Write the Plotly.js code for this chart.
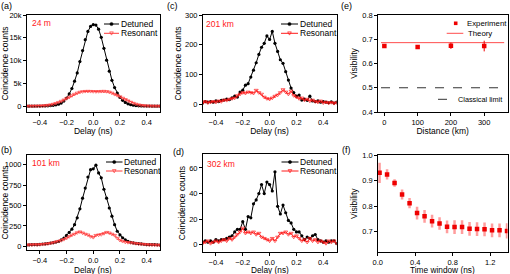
<!DOCTYPE html>
<html><head><meta charset="utf-8">
<script src="https://cdn.plot.ly/plotly-3.0.1.min.js"></script>
<style>html,body{margin:0;padding:0;background:#fff}#chart{width:510px;height:274px}</style>
</head><body><div id="chart"></div>
<script>
// ---------- data ----------
const delay = [-0.50,-0.48,-0.46,-0.44,-0.42,-0.40,-0.38,-0.36,-0.34,-0.32,-0.30,-0.28,-0.26,-0.24,-0.22,-0.20,-0.18,-0.16,-0.14,-0.12,-0.10,-0.08,-0.06,-0.04,-0.02,0.00,0.02,0.04,0.06,0.08,0.10,0.12,0.14,0.16,0.18,0.20,0.22,0.24,0.26,0.28,0.30,0.32,0.34,0.36,0.38,0.40,0.42,0.44,0.46,0.48,0.50];

const detunedA = [20,25,30,35,40, 50,60,80,110,150, 220,320,470,700,1150, 1800,2700,3900,5500,7300, 9800,12200,14600,16400,17500, 17900, 17800,16900,15100,12700,10100, 7700,5700,4100,2900,1950, 1300,850,550,350,230, 160,110,80,60,50, 40,35,30,25,20];
const resonantA = [30,35,40,50,60, 80,110,160,230,330, 470,650,870,1120,1400, 1700,2000,2350,2650,2900, 3100,3220,3280,3300,3280, 3250, 3230,3250,3280,3300,3250, 3120,2900,2620,2380,2100, 1800,1500,1200,920,680, 480,320,210,140,95, 70,55,45,35,30];

const detunedB = [15,18,20,22,20, 25,28,30,35,40, 45,52,60,78,100, 135,170,210,265,350, 460,590,715,850,940, 950, 995,900,840,700,590, 470,370,265,185,140, 105,80,62,50,42, 36,32,30,25,22, 20,22,20,18,15];
const resonantB = [15,20,18,22,20, 22,25,28,32,38, 45,55,62,72,85, 100,120,138,150,168, 178,165,150,140,120, 110, 135,140,145,158,172, 165,150,135,100,75, 62,52,48,45,40, 35,30,28,25,22, 20,18,18,15,15];

const detunedC = [5,10,8,10,8, 12,10,14,15,18, 16,22,28,25,42, 48,65,70,92,115, 140,168,192,205,230, 218, 245,205,178,150,138, 110,82,55,40,28, 32,15,18,14,28, 12,10,12,8,10, 8,6,9,5,8];
const resonantC = [5,10,6,8,10, 8,12,10,15,14, 18,20,22,30,35, 40,38,42,40,38, 48,40,35,25,20, 18, 22,28,32,40,50, 42,35,45,30,25, 20,22,15,18,12, 15,10,8,12,6, 8,5,7,4,6];

const detunedD = [2,3,2,3,2, 4,3,4,4,5, 6,7,10,12,12, 18,12,22,21,32, 35,40,47,40,49, 47, 42,57,30,24,31, 25,19,17,12,10, 10,7,4,6,5, 7,8,4,3,2, 3,2,3,3,1];
const resonantD = [1,2,3,1,2, 3,2,3,4,3, 5,4,6,8,10, 13,9,10,9,10, 8,9,6,5,4, 3, 5,3,6,9,9, 10,8,9,6,7, 5,3,4,2,5, 3,4,2,3,2, 1,3,2,3,1];

const distanceKm = [0,100,200,300];
const visExp = [0.672,0.668,0.673,0.672];
const visExpErr = [0.005,0.006,0.013,0.022];
const theoryKm = [-10,360];
const theoryVis = [0.686,0.686];
const classicalVis = [0.5,0.5];

const timeWindow = [0.02,0.10,0.18,0.26,0.34,0.42,0.50,0.58,0.66,0.74,0.82,0.90,0.98,1.06,1.14,1.22,1.30,1.38];
const visTW = [0.931,0.925,0.891,0.846,0.812,0.773,0.760,0.741,0.732,0.719,0.718,0.718,0.711,0.710,0.709,0.705,0.705,0.703];
const visTWErr = [0.04,0.02,0.015,0.02,0.02,0.025,0.025,0.025,0.025,0.025,0.027,0.027,0.027,0.027,0.027,0.027,0.027,0.03];

const countTicksA = [0,5000,10000,15000,20000];
const countTickTextA = ['0','5k','10k','15k','20k'];
const distanceLabels = ['24 m','101 km','201 km','302 km'];

// ---------- styling ----------
const W = 510, H = 274;
const px = x => x / W, py = y => 1 - y / H;
const FONT = 'Liberation Sans, Arial, sans-serif';
const BLACK = '#000000', RED = '#ff3b3b', RED2 = '#ff1a1a';

function axis(d0, d1, range, extra) {
  return Object.assign({
    domain: [d0, d1], range: range, showline: true, mirror: true,
    linecolor: '#000', linewidth: 1, ticks: 'outside', ticklen: 2.5, tickwidth: 1,
    tickcolor: '#000', showgrid: false, zeroline: false, fixedrange: true,
    tickfont: {size: 7.5, color: '#000', family: FONT}
  }, extra || {});
}
function ttl(t, s) { return {text: t, font: {size: 8.5, color: '#000', family: FONT}, standoff: s}; }

const XA = [px(26.5), px(160)], XC = [px(202.5), px(336.7)], XE = [px(377.7), px(507.5)];
const YT = [py(112), py(15)], YB = [py(250), py(155)], YD = [py(252), py(154.3)], YF = [py(252), py(155.3)];

function pair(x, yD, yR, xa, ya, rc) {
  return [
    {x: x, y: yD, xaxis: xa, yaxis: ya, mode: 'lines+markers', type: 'scatter',
     line: {color: BLACK, width: 1}, marker: {symbol: 'circle', size: 3.2, color: BLACK}, showlegend: false},
    {x: x, y: yR, xaxis: xa, yaxis: ya, mode: 'lines+markers', type: 'scatter',
     line: {color: rc, width: 1}, marker: {symbol: 'triangle-down-open', size: 3.5, color: rc, line: {width: 0.7, color: rc}}, showlegend: false}
  ];
}

const data = [].concat(
  pair(delay, detunedA, resonantA, 'x', 'y', RED),
  pair(delay, detunedB, resonantB, 'x2', 'y2', RED),
  pair(delay, detunedC, resonantC, 'x3', 'y3', RED2),
  pair(delay, detunedD, resonantD, 'x4', 'y4', RED2),
  [
    {x: theoryKm, y: classicalVis, xaxis: 'x5', yaxis: 'y5', mode: 'lines', line: {color: '#333', width: 1, dash: 'dash'}, showlegend: false},
    {x: theoryKm, y: theoryVis, xaxis: 'x5', yaxis: 'y5', mode: 'lines', line: {color: '#ff4d4d', width: 1}, showlegend: false},
    {x: distanceKm, y: visExp, xaxis: 'x5', yaxis: 'y5', mode: 'markers',
     marker: {symbol: 'square', size: 4.5, color: '#ee0000'},
     error_y: {type: 'data', array: visExpErr, visible: true, color: '#ee0000', thickness: 1, width: 0}, showlegend: false},
    {x: timeWindow, y: visTW, xaxis: 'x6', yaxis: 'y6', mode: 'markers',
     marker: {symbol: 'square', size: 4.5, color: '#ee0000'},
     error_y: {type: 'data', array: visTWErr, visible: true, color: 'rgba(255,60,60,0.5)', thickness: 2.5, width: 0}, showlegend: false}
  ]
);

// ---------- hand-made legends, labels ----------
const shapes = [], annotations = [];
function legLine(x0, x1, y, color, dash) {
  shapes.push({type: 'line', xref: 'paper', yref: 'paper', x0: px(x0), x1: px(x1), y0: py(y), y1: py(y), line: {color: color, width: 1, dash: dash || 'solid'}});
}
function legCircle(x, y, r, color) {
  shapes.push({type: 'circle', xref: 'paper', yref: 'paper', x0: px(x - r), x1: px(x + r), y0: py(y + r), y1: py(y - r), fillcolor: color, line: {color: color, width: 0.5}});
}
function legSquare(x, y, r, color) {
  shapes.push({type: 'rect', xref: 'paper', yref: 'paper', x0: px(x - r), x1: px(x + r), y0: py(y + r), y1: py(y - r), fillcolor: color, line: {color: color, width: 0}});
}
function legTri(x, y, r, color) {
  shapes.push({type: 'path', xref: 'paper', yref: 'paper',
    path: 'M' + px(x - r) + ',' + py(y - r * 0.8) + ' L' + px(x + r) + ',' + py(y - r * 0.8) + ' L' + px(x) + ',' + py(y + r) + ' Z',
    line: {color: color, width: 0.7}, fillcolor: 'rgba(0,0,0,0)'});
}
function txt(x, y, t, opt) {
  opt = opt || {};
  annotations.push({xref: 'paper', yref: 'paper', x: px(x), y: py(y), text: t, showarrow: false,
    xanchor: opt.xa || 'left', yanchor: 'middle', borderpad: 0,
    font: {size: opt.size || 8.5, color: opt.color || '#000', family: FONT}});
}
function pairLegend(x0, x1, y1, y2, tx, rc) {
  legLine(x0, x1, y1, BLACK); legCircle((x0 + x1) / 2, y1, 1.6, BLACK);
  legLine(x0, x1, y2, rc); legTri((x0 + x1) / 2, y2, 1.8, rc);
  txt(tx, y1, 'Detuned'); txt(tx, y2, 'Resonant');
}
pairLegend(104, 119, 24, 33.3, 119.5, RED);
pairLegend(106, 122.5, 162, 171, 123, RED);
pairLegend(281, 298, 24, 33.3, 298.5, RED2);
pairLegend(281.5, 298.5, 162, 171, 299, RED2);
legSquare(455.7, 23.3, 1.8, '#ee0000'); txt(465.5, 23.3, 'Experiment', {size: 7.8});
legLine(446.7, 463.3, 33.3, '#ff4d4d'); txt(466.5, 33.3, 'Theory', {size: 7.8});
legLine(438, 455, 99.3, '#333', 'dash'); txt(456.5, 99.3, 'Classical limit', {size: 7.3});

txt(30.5, 22.7, distanceLabels[0], {color: '#ff1a1a', size: 8.5});
txt(30.5, 163, distanceLabels[1], {color: '#ff1a1a', size: 8.5});
txt(204.5, 24, distanceLabels[2], {color: '#ff1a1a', size: 8.5});
txt(206, 163.7, distanceLabels[3], {color: '#ff1a1a', size: 8.5});

txt(6, 6, '(a)', {xa: 'center', size: 9});
txt(6, 150, '(b)', {xa: 'center', size: 9});
txt(172, 6, '(c)', {xa: 'center', size: 9});
txt(178, 152, '(d)', {xa: 'center', size: 9});
txt(346, 6, '(e)', {xa: 'center', size: 9});
txt(346, 150, '(f)', {xa: 'center', size: 9});

// bottom-row x-axis titles (placed as text so they are not squeezed into the tick labels)
txt((26.5 + 160) / 2, 269.5, 'Delay (ns)', {xa: 'center', size: 8.3});
txt((202.5 + 336.7) / 2, 269.5, 'Delay (ns)', {xa: 'center', size: 8.3});
txt((377.7 + 507.5) / 2, 269.5, 'Time window (ns)', {xa: 'center', size: 8.3});

const delayTicks = {tickvals: [-0.4, -0.2, 0, 0.2, 0.4], ticktext: ['\u22120.4', '\u22120.2', '0.0', '0.2', '0.4']};

const layout = {
  width: W, height: H, margin: {l: 0, r: 0, t: 0, b: 0},
  paper_bgcolor: '#fff', plot_bgcolor: '#fff', showlegend: false,
  font: {family: FONT, size: 8, color: '#000'},
  xaxis: axis(XA[0], XA[1], [-0.5, 0.5], Object.assign({anchor: 'y', title: ttl('Delay (ns)', 1)}, delayTicks)),
  yaxis: axis(YT[0], YT[1], [-1250, 20000], {anchor: 'x', tickvals: countTicksA, ticktext: countTickTextA, title: ttl('Coincidence counts', 1)}),
  xaxis2: axis(XA[0], XA[1], [-0.5, 0.5], Object.assign({anchor: 'y2'}, delayTicks)),
  yaxis2: axis(YB[0], YB[1], [-45, 1120], {anchor: 'x2', tickvals: [0, 250, 500, 750, 1000], title: ttl('Coincidence counts', 1)}),
  xaxis3: axis(XC[0], XC[1], [-0.5, 0.5], Object.assign({anchor: 'y3', title: ttl('Delay (ns)', 1)}, delayTicks)),
  yaxis3: axis(YT[0], YT[1], [-25, 300], {anchor: 'x3', tickvals: [0, 100, 200, 300], title: ttl('Coincidence counts', 2)}),
  xaxis4: axis(XC[0], XC[1], [-0.5, 0.5], Object.assign({anchor: 'y4'}, delayTicks)),
  yaxis4: axis(YD[0], YD[1], [-5.7, 70.7], {anchor: 'x4', tickvals: [0, 20, 40, 60], title: ttl('Coincidence counts', 2)}),
  xaxis5: axis(XE[0], XE[1], [-20, 370], {anchor: 'y5', tickvals: [0, 100, 200, 300], title: ttl('Distance (km)', 1)}),
  yaxis5: axis(YT[0], YT[1], [0.4, 0.8], {anchor: 'x5', tickvals: [0.4, 0.5, 0.6, 0.7, 0.8], tickformat: '.1f', title: ttl('Visibility', 3)}),
  xaxis6: axis(XE[0], XE[1], [0, 1.385], {anchor: 'y6', tickvals: [0, 0.4, 0.8, 1.2], tickformat: '.1f'}),
  yaxis6: axis(YF[0], YF[1], [0.62, 1.0], {anchor: 'x6', tickvals: [0.7, 0.8, 0.9, 1.0], tickformat: '.1f', title: ttl('Visibility', 3)}),
  shapes: shapes, annotations: annotations
};

Plotly.newPlot('chart', data, layout, {staticPlot: true, displayModeBar: false});
</script>
</body></html>
